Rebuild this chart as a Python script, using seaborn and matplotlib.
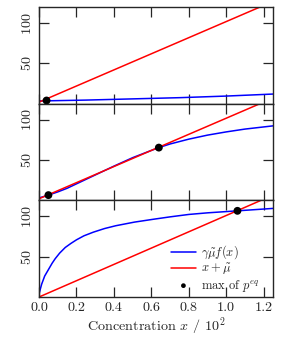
import numpy as np
import pandas as pd
import matplotlib
matplotlib.use('Agg')
import matplotlib.pyplot as plt
import seaborn as sns

# Blue curves: gamma*mu*f(x), one per panel
x_top = [0.0, 0.25, 0.5, 0.75, 1.0, 1.25]
f_top = [3.4, 4.5, 6.0, 7.5, 9.5, 12.0]

x_mid = [0.0, 0.05, 0.1, 0.15, 0.2, 0.3, 0.4, 0.5, 0.6, 0.64, 0.7, 0.8, 0.9, 1.0, 1.1, 1.25]
f_mid = [3.0, 6.5, 10.5, 15.0, 20.5, 31.5, 42.5, 53.0, 62.0, 65.5, 70.0, 76.0, 81.0, 85.0, 88.5, 92.5]

x_bot = [0.0, 0.007, 0.014, 0.03, 0.05, 0.07, 0.086, 0.11, 0.14, 0.17, 0.2, 0.24,
         0.29, 0.35, 0.41, 0.51, 0.61, 0.7, 0.8, 0.9, 1.06, 1.25]
f_bot = [4.0, 10.0, 16.0, 26.0, 34.0, 42.0, 47.5, 54.5, 61.5, 66.5, 71.0, 76.0,
         80.5, 85.0, 88.5, 93.0, 96.5, 99.5, 102.5, 104.5, 107.0, 110.0]

# Red lines: x + mu (endpoints)
x_line = [0.0, 1.25]
line_top = [2.0, 127.0]
line_mid = [2.0, 127.0]
line_bot = [0.0, 126.5]

# maxima of p_eq
max_x = [[0.04], [0.05, 0.64], [1.06]]
max_y = [[4.0], [6.5, 65.5], [107.0]]

sns.set_style('ticks')
plt.rcParams['font.family'] = ['serif']
plt.rcParams['font.serif'] = ['cmr10', 'DejaVu Serif']
plt.rcParams['mathtext.fontset'] = 'cm'
plt.rcParams['axes.unicode_minus'] = False
plt.rcParams['axes.formatter.use_mathtext'] = True

fig, axes = plt.subplots(3, 1, figsize=(2.81, 3.37), dpi=100, sharex=True)
fig.subplots_adjust(left=0.139, right=0.9715, bottom=0.1187, top=0.979, hspace=0)

curves = [(x_top, f_top, line_top), (x_mid, f_mid, line_mid), (x_bot, f_bot, line_bot)]

for i, ax in enumerate(axes):
    xs, fs, ls = curves[i]
    last = i == 2
    sns.lineplot(x=xs, y=fs, ax=ax, color='#0000ff', lw=1.1,
                 label=r'$\gamma\tilde{\mu}f(x)$' if last else None)
    sns.lineplot(x=x_line, y=ls, ax=ax, color='#ff0000', lw=1.1,
                 label=r'$x+\tilde{\mu}$' if last else None)
    sns.scatterplot(x=max_x[i], y=max_y[i], ax=ax, color='black', s=32,
                    edgecolor='none', zorder=5,
                    label=r'max of $p^{eq}$' if last else None)
    ax.set_xlim(0, 1.25)
    ax.set_ylim(0, 120)
    ax.set_yticks([50, 100])
    ax.set_xticks([0.0, 0.2, 0.4, 0.6, 0.8, 1.0, 1.2])
    ax.tick_params(direction='in', top=True, right=True, length=7.5,
                   width=0.9, labelsize=10.2)
    for lab in ax.get_yticklabels():
        lab.set_rotation(90)
        lab.set_va('center')
    for sp in ax.spines.values():
        sp.set_linewidth(1.0)

axes[2].set_xticklabels(['0.0', '0.2', '0.4', '0.6', '0.8', '1.0', '1.2'])
axes[2].set_xlabel(r'Concentration $x$ / $10^2$', fontsize=10.2, labelpad=1.5)
axes[2].legend(loc='lower right', bbox_to_anchor=(0.965, -0.02), frameon=False,
               fontsize=9, markerscale=0.6, handlelength=2.0,
               borderaxespad=0.0, labelspacing=0.05, handletextpad=0.4)

plt.savefig('out.png', dpi=100)
